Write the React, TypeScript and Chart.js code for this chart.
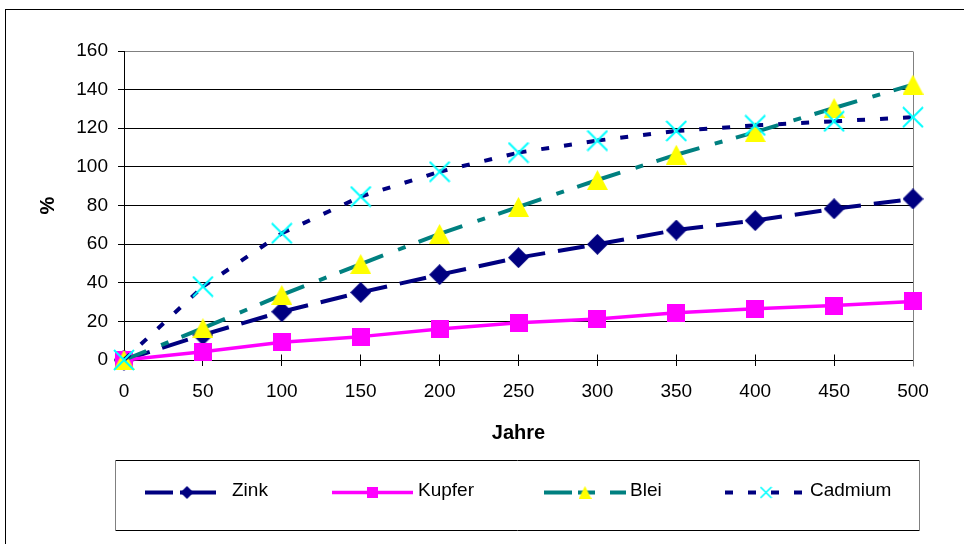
import React, { useEffect, useRef } from 'react';
import { Chart, registerables } from 'chart.js';

Chart.register(...registerables);

// ---------- data ----------
const years = [0, 50, 100, 150, 200, 250, 300, 350, 400, 450, 500];
const zink = [0, 13, 25, 35, 44.2, 53, 59.9, 67.3, 72.2, 78.3, 83.4];
const kupfer = [0, 4.3, 9.2, 12.1, 16, 19.3, 21.2, 24.5, 26.5, 28.2, 30.3];
const blei = [0, 16.5, 33.7, 49.7, 65.3, 79.3, 93.2, 106.3, 118, 130.5, 142.6];
const cadmium = [0, 38, 65.6, 84.6, 97.5, 107.4, 113.6, 118.6, 121.5, 123.6, 125.7];
const seriesLabels = ['Zink', 'Kupfer', 'Blei', 'Cadmium'];
const xTitle = 'Jahre';
const yTitle = '%';
const yMin = 0;
const yMax = 160;
const yStep = 20;
const xMin = 0;
const xMax = 500;
const xStep = 50;

const FONT = "'Liberation Sans', Arial, Helvetica, sans-serif";
const NAVY = '#000080';
const MAGENTA = '#FF00FF';
const TEAL = '#008080';
const YELLOW = '#FFFF00';
const CYAN = '#00FFFF';

function makeMarker(kind: string, w: number, h: number, lw = 2): HTMLCanvasElement {
  const c = document.createElement('canvas');
  c.width = w;
  c.height = h;
  const g = c.getContext('2d')!;
  if (kind === 'diamond') {
    g.fillStyle = NAVY;
    g.beginPath();
    g.moveTo(w / 2, 0);
    g.lineTo(w, h / 2);
    g.lineTo(w / 2, h);
    g.lineTo(0, h / 2);
    g.closePath();
    g.fill();
  } else if (kind === 'square') {
    g.fillStyle = MAGENTA;
    g.fillRect(0, 0, w, h);
  } else if (kind === 'triangle') {
    g.fillStyle = YELLOW;
    g.beginPath();
    g.moveTo(w / 2, 0);
    g.lineTo(w, h);
    g.lineTo(0, h);
    g.closePath();
    g.fill();
  } else if (kind === 'x') {
    g.strokeStyle = CYAN;
    g.lineWidth = lw;
    g.beginPath();
    g.moveTo(1, 1);
    g.lineTo(w - 1, h - 1);
    g.moveTo(w - 1, 1);
    g.lineTo(1, h - 1);
    g.stroke();
  }
  return c;
}

export default function App() {
  const ref = useRef<HTMLCanvasElement>(null);

  useEffect(() => {
    const markers = {
      diamond: makeMarker('diamond', 21, 21),
      square: makeMarker('square', 18, 18),
      triangle: makeMarker('triangle', 21, 20),
      x: makeMarker('x', 22, 22, 2),
    };
    const legendMarkers = [
      makeMarker('diamond', 13, 13),
      makeMarker('square', 11, 11),
      makeMarker('triangle', 13, 13),
      makeMarker('x', 13, 13, 1.6),
    ];
    const legendLayout = [
      { x0: 145, x1: 216, m: 187, t: 232, dash: [28, 7, 36] },
      { x0: 332, x1: 413, m: 372, t: 418, dash: [] },
      { x0: 544, x1: 626, m: 585, t: 630, dash: [28, 6, 17, 15, 16] },
      { x0: 725, x1: 802, m: 766, t: 810, dash: [8, 15] },
    ];

    const restart = { borderDashOffset: (c: any) => c.p0DataIndex * 0.001 };
    const mk = (
      label: string,
      values: number[],
      color: string,
      dash: number[],
      marker: HTMLCanvasElement,
      order: number,
      width: number
    ) => ({
      label,
      data: years.map((x, i) => ({ x, y: values[i] })),
      borderColor: color,
      backgroundColor: color,
      borderWidth: width,
      borderDash: dash,
      borderCapStyle: 'butt',
      borderJoinStyle: 'round',
      pointStyle: marker,
      pointRadius: 10,
      pointHoverRadius: 10,
      pointBorderWidth: 0,
      tension: 0,
      clip: false,
      order,
      segment: dash.length ? restart : undefined,
    });

    const datasets = [
      mk(seriesLabels[0], zink, NAVY, [27, 13], markers.diamond, 4, 4),
      mk(seriesLabels[1], kupfer, MAGENTA, [], markers.square, 3, 3.5),
      mk(seriesLabels[2], blei, TEAL, [24, 16, 8, 14], markers.triangle, 2, 4),
      mk(seriesLabels[3], cadmium, NAVY, [8, 15], markers.x, 1, 4),
    ];

    const decor = {
      id: 'decor',
      beforeDraw(chart: any) {
        const { ctx, width, height } = chart;
        ctx.save();
        ctx.fillStyle = '#ffffff';
        ctx.fillRect(0, 0, width, height);
        ctx.restore();
      },
      beforeDatasetsDraw(chart: any) {
        const { ctx, chartArea: a, scales } = chart;
        const x = scales.x;
        const al = (p: number) => Math.round(p - 0.5) + 0.5;
        ctx.save();
        ctx.lineWidth = 1;
        // inner halves of x tick marks
        ctx.strokeStyle = '#000';
        ctx.beginPath();
        for (let v = xMin + xStep; v < xMax; v += xStep) {
          const px = al(x.getPixelForValue(v));
          ctx.moveTo(px, al(a.bottom) - 6);
          ctx.lineTo(px, al(a.bottom));
        }
        ctx.stroke();
        // right plot border
        ctx.strokeStyle = '#808080';
        ctx.beginPath();
        ctx.moveTo(al(a.right), al(a.top));
        ctx.lineTo(al(a.right), al(a.bottom) + 6);
        ctx.stroke();
        ctx.restore();
      },
      afterDraw(chart: any) {
        const { ctx } = chart;
        ctx.save();
        // outer frame
        ctx.strokeStyle = '#000';
        ctx.lineWidth = 1;
        ctx.strokeRect(5.5, 9.5, 1000, 1000);
        // legend box
        ctx.fillStyle = '#fff';
        ctx.beginPath();
        ctx.moveTo(115.5, 460.5);
        ctx.lineTo(919.5, 460.5);
        ctx.moveTo(115.5, 530.5);
        ctx.lineTo(919.5, 530.5);
        ctx.stroke();
        ctx.strokeStyle = '#808080';
        ctx.beginPath();
        ctx.moveTo(115.5, 460.5);
        ctx.lineTo(115.5, 530.5);
        ctx.moveTo(919.5, 460.5);
        ctx.lineTo(919.5, 530.5);
        ctx.stroke();
        // legend items
        const ly = 492.5;
        chart.data.datasets.forEach((ds: any, i: number) => {
          const L = legendLayout[i];
          ctx.strokeStyle = ds.borderColor;
          ctx.lineWidth = ds.borderWidth;
          ctx.lineCap = 'butt';
          ctx.setLineDash(L.dash);
          ctx.beginPath();
          ctx.moveTo(L.x0, ly);
          ctx.lineTo(L.x1, ly);
          ctx.stroke();
          ctx.setLineDash([]);
          const mkImg = legendMarkers[i];
          ctx.drawImage(mkImg, L.m - mkImg.width / 2, ly - mkImg.height / 2);
          ctx.fillStyle = '#000';
          ctx.font = `19px ${FONT}`;
          ctx.textBaseline = 'middle';
          ctx.textAlign = 'left';
          ctx.fillText(ds.label, L.t, 491);
        });
        ctx.restore();
      },
    };

    const chart = new Chart(ref.current!, {
      type: 'line',
      data: { datasets: datasets as any },
      options: {
        responsive: false,
        animation: false,
        events: [],
        layout: { padding: { top: 51, right: 51, left: 0, bottom: 0 } },
        plugins: {
          legend: { display: false },
          tooltip: { enabled: false },
        },
        scales: {
          x: {
            type: 'linear',
            min: xMin,
            max: xMax,
            afterFit: (s: any) => {
              s.height = 184;
            },
            ticks: {
              stepSize: xStep,
              color: '#000',
              padding: 14,
              font: { family: FONT, size: 19 },
              maxRotation: 0,
              autoSkip: false,
            },
            grid: {
              drawOnChartArea: false,
              drawTicks: true,
              tickLength: 6,
              tickColor: '#000',
              color: '#000',
            },
            border: { display: true, color: '#000', width: 1 },
            title: {
              display: true,
              text: xTitle,
              color: '#000',
              font: { family: FONT, size: 20, weight: 'bold' },
              padding: { top: 0, bottom: 98.5 },
            },
          },
          y: {
            type: 'linear',
            min: yMin,
            max: yMax,
            afterFit: (s: any) => {
              s.width = 124;
            },
            ticks: {
              stepSize: yStep,
              color: '#000',
              padding: 10,
              font: { family: FONT, size: 19 },
            },
            grid: {
              color: (c: any) => (c.tick && c.tick.value === yMax ? '#808080' : '#000000'),
              tickColor: '#000',
              tickLength: 6,
              lineWidth: 1,
            },
            border: { display: true, color: '#000', width: 1 },
            title: {
              display: true,
              text: yTitle,
              color: '#000',
              font: { family: FONT, size: 20, weight: 'bold' },
              padding: { top: 36, bottom: 0 },
            },
          },
        },
      } as any,
      plugins: [decor],
    });
    return () => chart.destroy();
  }, []);

  return (
    <div style={{ position: 'absolute', left: 0, top: 0, width: 964, height: 544, background: '#fff' }}>
      <canvas ref={ref} width={964} height={544} style={{ display: 'block', width: 964, height: 544 }} />
    </div>
  );
}
